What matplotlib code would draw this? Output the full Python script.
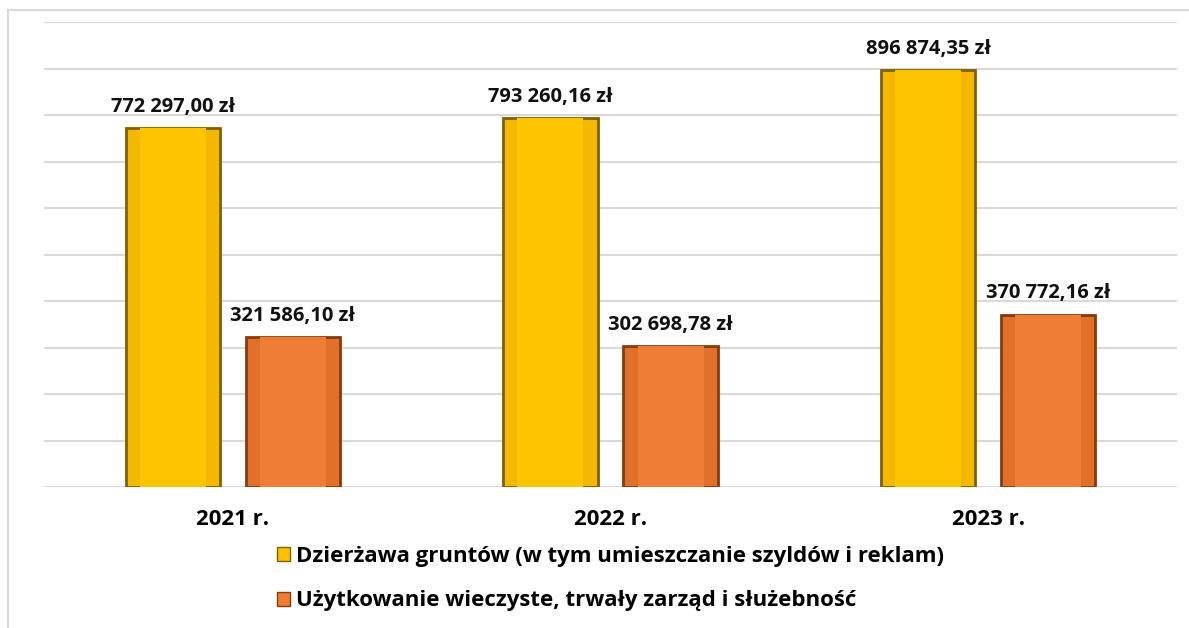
import numpy as np
import matplotlib.pyplot as plt
from matplotlib.lines import Line2D
from matplotlib.patches import Patch

# data
years = ["2021 r.", "2022 r.", "2023 r."]
dzierzawa = [772297.00, 793260.16, 896874.35]
uzytkowanie = [321586.10, 302698.78, 370772.16]
series_names = ["Dzierżawa gruntów (w tym umieszczanie szyldów i reklam)",
                "Użytkowanie wieczyste, trwały zarząd i służebność"]

plt.rcParams['font.family'] = ['Open Sans', 'DejaVu Sans']


def fmt(v):
    s = f"{v:,.2f}".replace(",", " ").replace(".", ",")
    return s + " zł"


fig = plt.figure(figsize=(11.89, 6.28), dpi=100)
ax = fig.add_axes([44/1189, 1-487/628, (1177-44)/1189, (487-22)/628])

x = np.arange(len(years))
w = 0.25
off = 0.159
b1 = ax.bar(x - off, dzierzawa, w, color='#F5B800', edgecolor='#7f6000', linewidth=2, zorder=3)
b2 = ax.bar(x + off, uzytkowanie, w, color='#E0702A', edgecolor='#843c0c', linewidth=2, zorder=3)
# lighter inner face to mimic bevel
ax.bar(x - off, dzierzawa, w*0.7, color='#FFC400', linewidth=0, zorder=4)
ax.bar(x + off, uzytkowanie, w*0.7, color='#EE7E35', linewidth=0, zorder=4)

for bars, vals in ((b1, dzierzawa), (b2, uzytkowanie)):
    for r, v in zip(bars, vals):
        ax.annotate(fmt(v), (r.get_x() + r.get_width()/2, v), xytext=(0, 8),
                    textcoords='offset points', ha='center', va='bottom',
                    fontsize=14.5, fontweight='bold', color='#111111')

ax.set_ylim(0, 1000000)
ax.set_xlim(-0.5, 2.5)
ax.set_yticks(np.arange(0, 1000001, 100000))
ax.set_yticklabels([])
ax.tick_params(axis='y', length=0)
ax.set_xticks(x)
ax.set_xticklabels(years, fontsize=16, fontweight='bold')
ax.tick_params(axis='x', length=0, pad=16)
ax.grid(axis='y', color='#D9D9D9', linewidth=1.5, zorder=0)
for s in ax.spines.values():
    s.set_visible(False)

handles = [Patch(facecolor='#FFC000', edgecolor='#7f6000'),
           Patch(facecolor='#ED7D31', edgecolor='#843c0c')]
leg = fig.legend(handles, series_names, loc='upper left', bbox_to_anchor=(266/1189, 1-535/628),
                 frameon=False, handlelength=0.6, handleheight=0.6, handletextpad=0.25,
                 labelspacing=1.05, prop={'size': 16, 'weight': 'bold'}, borderpad=0)

# outer chart frame
fig.add_artist(Line2D([8/1189, 8/1189], [0, 1-10/628], color='#D9D9D9', lw=1.5))
fig.add_artist(Line2D([8/1189, 1], [1-10/628, 1-10/628], color='#D9D9D9', lw=1.5))

fig.savefig("out.png", dpi=100)
